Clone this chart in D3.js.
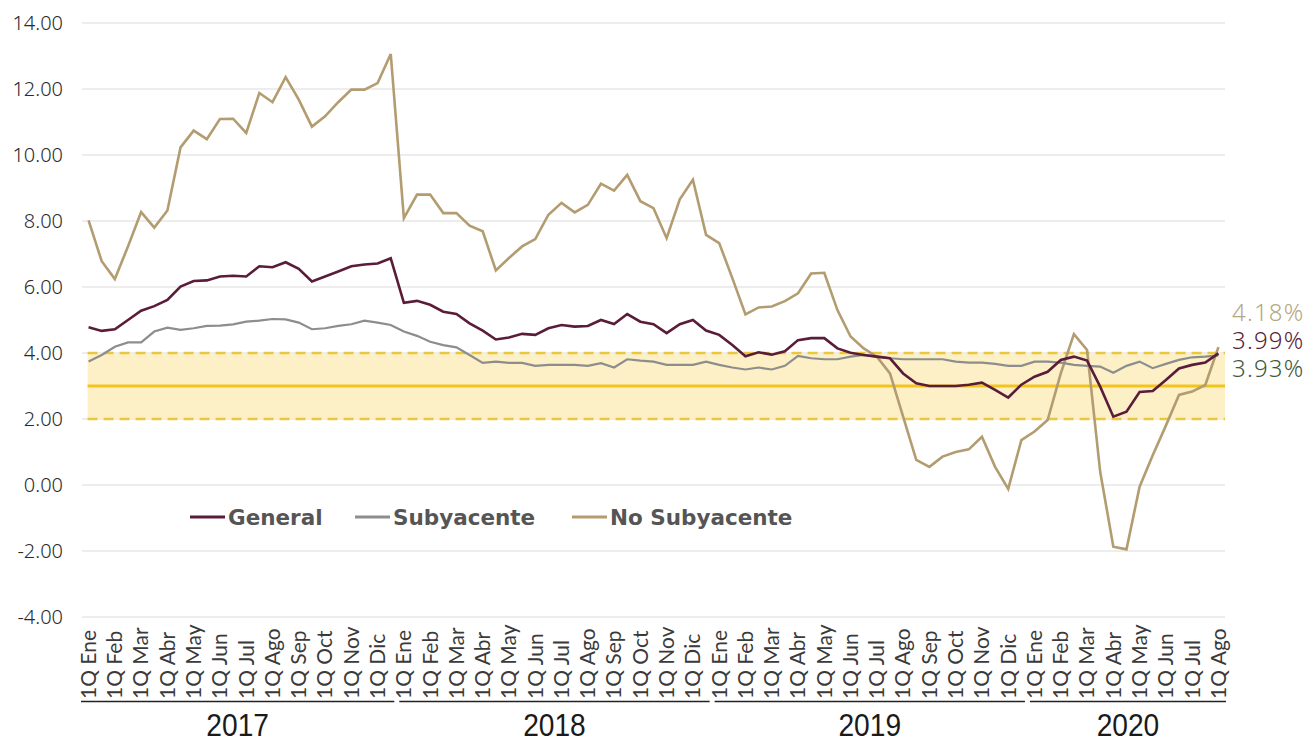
<!DOCTYPE html>
<html>
<head>
<meta charset="utf-8">
<script src="https://cdn.jsdelivr.net/npm/d3@7"></script>
<style>
  html, body { margin: 0; padding: 0; background: #fff; }
  svg { display: block; }
</style>
</head>
<body>
<svg id="chart" width="1314" height="740"></svg>
<script>
const years = ["2017", "2018", "2019", "2020"];
const months = ["Ene", "Feb", "Mar", "Abr", "May", "Jun", "Jul", "Ago", "Sep", "Oct", "Nov", "Dic"];
const yTicks = [-4, -2, 0, 2, 4, 6, 8, 10, 12, 14];
const seriesNames = ["General", "Subyacente", "No Subyacente"];
const endLabels = ["4.18%", "3.99%", "3.93%"];
const targetBand = [2, 3, 4];

const general = [
  4.78, 4.67, 4.72, 5.00, 5.28, 5.42, 5.61, 6.01, 6.18, 6.20, 6.32, 6.34,
  6.32, 6.63, 6.60, 6.75, 6.55, 6.17, 6.32, 6.47, 6.63, 6.68, 6.71, 6.87,
  5.52, 5.58, 5.46, 5.25, 5.18, 4.90, 4.68, 4.41, 4.47, 4.58, 4.55, 4.75,
  4.85, 4.80, 4.82, 5.00, 4.88, 5.18, 4.95, 4.87, 4.60, 4.87, 5.00, 4.68,
  4.55, 4.24, 3.90, 4.02, 3.95, 4.05, 4.39, 4.45, 4.45, 4.14, 4.01, 3.94,
  3.89, 3.84, 3.38, 3.08, 3.00, 3.00, 3.00, 3.04, 3.10, 2.88, 2.65, 3.04,
  3.28, 3.43, 3.79, 3.89, 3.77, 2.98, 2.07, 2.22, 2.82, 2.85, 3.18, 3.53,
  3.64, 3.71, 3.99
];
const subyacente = [
  3.74, 3.94, 4.19, 4.32, 4.32, 4.65, 4.77, 4.70, 4.75, 4.82, 4.83, 4.87,
  4.95, 4.98, 5.03, 5.02, 4.92, 4.72, 4.75, 4.82, 4.87, 4.98, 4.92, 4.85,
  4.65, 4.52, 4.34, 4.24, 4.17, 3.94, 3.70, 3.74, 3.70, 3.70, 3.61, 3.64,
  3.64, 3.64, 3.61, 3.69, 3.56, 3.81, 3.77, 3.74, 3.64, 3.64, 3.64, 3.74,
  3.64, 3.56, 3.50, 3.56, 3.50, 3.61, 3.91, 3.84, 3.81, 3.81, 3.89, 3.94,
  3.89, 3.84, 3.81, 3.81, 3.81, 3.81, 3.74, 3.71, 3.71, 3.67, 3.61, 3.61,
  3.74, 3.74, 3.71, 3.64, 3.61, 3.59, 3.40, 3.61, 3.74, 3.54, 3.67, 3.79,
  3.87, 3.89, 3.93
];
const noSubyacente = [
  8.02, 6.78, 6.24, 7.23, 8.27, 7.80, 8.32, 10.23, 10.74, 10.48, 11.09, 11.10,
  10.67, 11.88, 11.60, 12.36, 11.68, 10.86, 11.17, 11.60, 11.98, 11.98, 12.18, 13.06,
  8.09, 8.80, 8.80, 8.24, 8.24, 7.86, 7.69, 6.50, 6.88, 7.23, 7.45, 8.19,
  8.55, 8.26, 8.49, 9.13, 8.92, 9.40, 8.60, 8.39, 7.48, 8.66, 9.25, 7.58,
  7.33, 6.27, 5.17, 5.38, 5.41, 5.57, 5.81, 6.41, 6.43, 5.30, 4.50, 4.14,
  3.89, 3.38, 2.07, 0.76, 0.55, 0.86, 1.00, 1.08, 1.46, 0.55, -0.12, 1.36,
  1.62, 1.97, 3.38, 4.57, 4.09, 0.40, -1.87, -1.95, -0.05, 0.90, 1.80, 2.73,
  2.83, 3.03, 4.18
];
const colors = ["#5a1c38", "#8d8d8d", "#b39c70"];
const endColors = ["#b5a784", "#5a1c38", "#3f5a40"];

// categories: 1Q/2Q each month, Jan 2017 to 1Q Aug 2020
const categories = [];
years.forEach(yr => months.forEach(m => {
  ["1Q", "2Q"].forEach(q => categories.push({ key: yr + " " + q + " " + m, q, m, y: yr }));
}));
const cats = categories.slice(0, general.length);

const svg = d3.select("#chart");
const mLeft = 82, mRight = 1225, mTop = 23, mBottom = 617;

const x = d3.scaleBand().domain(cats.map(c => c.key)).range([mLeft, mRight]);
const xc = k => x(k) + x.bandwidth() / 2;
const y = d3.scaleLinear().domain([-4, 14]).range([mBottom, mTop]);

// gridlines
svg.append("g").selectAll("line").data(yTicks).join("line")
  .attr("x1", mLeft).attr("x2", mRight)
  .attr("y1", d => y(d)).attr("y2", d => y(d))
  .attr("stroke", "#dcdcdc").attr("stroke-width", 1.2);

// y axis labels (hyphen minus as in the original)
const fmt = d3.formatLocale({ decimal: ".", thousands: ",", grouping: [3], currency: ["", ""], minus: "-" }).format(".2f");
const yAxis = d3.axisLeft(y).tickValues(yTicks).tickFormat(fmt).tickSize(0).tickPadding(0);
const yg = svg.append("g").attr("transform", `translate(63,0)`).call(yAxis);
yg.select(".domain").remove();
yg.selectAll("text").attr("font-family", "'Noto Sans', sans-serif").attr("font-size", 20)
  .attr("fill", "#2a2a2a").attr("font-weight", 300);

// target band
const bx0 = xc(cats[0].key) - 1, bx1 = mRight;
svg.append("rect").attr("x", bx0).attr("width", bx1 - bx0)
  .attr("y", y(targetBand[2])).attr("height", y(targetBand[0]) - y(targetBand[2]))
  .attr("fill", "#fdf0c6");
[targetBand[0], targetBand[2]].forEach(v => {
  svg.append("line").attr("x1", bx0).attr("x2", bx1).attr("y1", y(v)).attr("y2", y(v))
    .attr("stroke", "#ebc73d").attr("stroke-width", 2.5).attr("stroke-dasharray", "10,6");
});
svg.append("line").attr("x1", bx0).attr("x2", bx1).attr("y1", y(targetBand[1])).attr("y2", y(targetBand[1]))
  .attr("stroke", "#f2c41c").attr("stroke-width", 2.8);

// lines
const line = d3.line().x((d, i) => xc(cats[i].key)).y(d => y(d));
const allSeries = [noSubyacente, subyacente, general];
const seriesColors = [colors[2], colors[1], colors[0]];
const widths = [2.6, 2.2, 2.6];
allSeries.forEach((s, k) => {
  svg.append("path").datum(s).attr("d", line).attr("fill", "none")
    .attr("stroke", seriesColors[k]).attr("stroke-width", widths[k])
    .attr("stroke-linejoin", "miter");
});

// x axis tick labels
const xAxis = d3.axisBottom(x).tickSize(0).tickPadding(0)
  .tickFormat((k, i) => cats[i].q === "1Q" ? cats[i].q + " " + cats[i].m : "");
const xg = svg.append("g").attr("transform", `translate(0,${699})`).call(xAxis);
xg.select(".domain").remove();
xg.selectAll("text")
  .attr("transform", "rotate(-90)")
  .attr("text-anchor", "start")
  .attr("dy", "0.35em")
  .attr("x", 0).attr("y", 0)
  .attr("font-family", "Lato, sans-serif").attr("font-size", 21).attr("fill", "#3a3a3a");

// year group lines and labels
years.forEach((yr, j) => {
  const idx = cats.map((c, i) => c.y === yr ? i : -1).filter(i => i >= 0);
  const x0 = x(cats[idx[0]].key) + (j === 0 ? -1 : 2);
  const x1 = j === years.length - 1 ? mRight + 1 : x(cats[idx[idx.length - 1]].key) + x.bandwidth() - 3;
  svg.append("line").attr("x1", x0).attr("x2", x1).attr("y1", 701.5).attr("y2", 701.5)
    .attr("stroke", "#222").attr("stroke-width", 1.4);
  svg.append("text")
    .attr("transform", `translate(${(x0 + x1) / 2},735.5) scale(0.88,1)`)
    .attr("text-anchor", "middle")
    .attr("font-family", "'Liberation Sans', Arial, sans-serif").attr("font-size", 32)
    .attr("fill", "#1a1a1a").text(yr);
});

// legend
const legendX = [190, 355, 572];
[0, 1, 2].forEach(k => {
  const lx = legendX[k];
  svg.append("line").attr("x1", lx).attr("x2", lx + 35).attr("y1", 517).attr("y2", 517)
    .attr("stroke", colors[k]).attr("stroke-width", 3);
  svg.append("text").attr("x", lx + 38).attr("y", 524.5)
    .attr("font-family", "'DejaVu Sans', sans-serif").attr("font-weight", 700).attr("font-size", 21.5)
    .attr("fill", "#555").text(seriesNames[k]);
});

// end labels
const endY = [321, 348.5, 376.5];
endLabels.forEach((t, k) => {
  svg.append("text").attr("x", 1232).attr("y", endY[k])
    .attr("font-family", "'Noto Sans', sans-serif").attr("font-weight", 300).attr("font-size", 24)
    .attr("letter-spacing", 1.2).attr("fill", endColors[k]).text(t);
});
</script>
</body>
</html>
